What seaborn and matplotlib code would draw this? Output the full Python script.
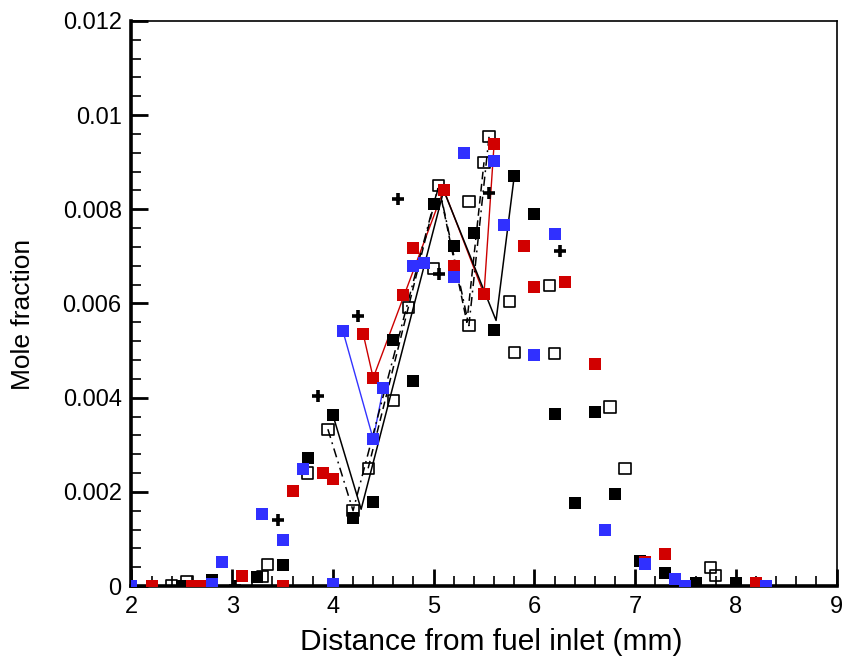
import matplotlib
matplotlib.use("Agg")
import matplotlib.pyplot as plt
from matplotlib.ticker import MultipleLocator, FormatStrFormatter
import seaborn as sns
import pandas as pd

# filled blue squares
blue_x = [2.0, 2.8, 2.9, 3.3, 3.5, 3.7, 4.0, 4.1, 4.4, 4.5, 4.8, 4.9, 5.2, 5.3, 5.6, 5.7, 6.0, 6.2, 6.7, 7.1, 7.4, 7.5, 8.3]
blue_y = [0.0, 0.00005, 0.00052, 0.00152, 0.00098, 0.00248, 0.00005, 0.00541, 0.00312, 0.0042, 0.00679, 0.00686,
          0.00656, 0.00919, 0.00903, 0.00766, 0.0049, 0.00747, 0.00118, 0.00047, 0.00015, 0.0, 0.0]

# filled red squares
red_x = [2.2, 2.6, 2.7, 3.1, 3.5, 3.6, 3.9, 4.0, 4.3, 4.4, 4.7, 4.8, 5.1, 5.2, 5.5, 5.6, 5.9, 6.0, 6.3, 6.6, 7.1, 7.3, 8.2]
red_y = [0.0, 0.0, 0.0, 0.00022, 0.0, 0.00202, 0.00239, 0.00227, 0.00536, 0.00442, 0.00617, 0.00718, 0.00842,
         0.0068, 0.0062, 0.00938, 0.00722, 0.00635, 0.00645, 0.00471, 0.00052, 0.00069, 0.00007]

# filled black squares
black_x = [2.5, 2.8, 3.25, 3.5, 3.75, 4.0, 4.2, 4.4, 4.6, 4.8, 5.0, 5.2, 5.4, 5.6, 5.8, 6.0, 6.2, 6.4, 6.6, 6.8,
           7.05, 7.3, 7.6, 8.0]
black_y = [0.0, 0.00013, 0.0002, 0.00045, 0.00272, 0.00363, 0.00144, 0.00179, 0.00522, 0.00435, 0.00811, 0.00722,
           0.00749, 0.00543, 0.0087, 0.0079, 0.00365, 0.00176, 0.00369, 0.00195, 0.00054, 0.00028, 0.00007, 0.00006]

# open squares
open_x = [2.4, 2.55, 3.3, 3.35, 3.75, 3.95, 4.2, 4.35, 4.6, 4.75, 5.0, 5.05, 5.35, 5.35, 5.5, 5.55, 5.75, 5.8,
          6.15, 6.2, 6.75, 6.9, 7.75, 7.8]
open_y = [0.0, 0.0001, 0.0002, 0.00046, 0.0024, 0.00333, 0.0016, 0.0025, 0.00394, 0.00591, 0.00674, 0.00851,
          0.00817, 0.00553, 0.00899, 0.00954, 0.00605, 0.00496, 0.00638, 0.00494, 0.0038, 0.0025, 0.0004, 0.00023]

# plus markers
plus_x = [3.03, 3.45, 3.85, 4.25, 4.65, 5.05, 5.55, 6.25]
plus_y = [0.0, 0.0014, 0.00403, 0.00573, 0.00822, 0.00662, 0.00835, 0.00711]

# connecting curves
blue_line_x = [4.1, 4.4, 4.5]
blue_line_y = [0.00541, 0.00312, 0.0042]
red_line_x = [4.3, 4.4, 5.1, 5.5, 5.6]
red_line_y = [0.00536, 0.00442, 0.00842, 0.0062, 0.00938]
solid_line_x = [4.0, 4.28, 5.1, 5.62, 5.8]
solid_line_y = [0.00363, 0.00163, 0.0084, 0.00564, 0.0087]
dashdot_line_x = [3.95, 4.2, 5.05, 5.35, 5.55]
dashdot_line_y = [0.00333, 0.0016, 0.00851, 0.00553, 0.00954]
dashed_line_x = [4.35, 5.05, 5.33, 5.5]
dashed_line_y = [0.0025, 0.0085, 0.0056, 0.009]

sns.set_style("white")
plt.rcParams["font.family"] = ["Liberation Sans", "DejaVu Sans"]
plt.rcParams["text.color"] = "black"
plt.rcParams["axes.labelcolor"] = "black"
plt.rcParams["xtick.color"] = "black"
plt.rcParams["ytick.color"] = "black"

fig = plt.figure(figsize=(8.46, 6.56), dpi=100)
ax = fig.add_axes([0.1554, 0.1067, 0.8334, 0.8613])


def draw_line(xs, ys, color, dashes, width):
    frame = pd.DataFrame({"x": xs, "y": ys})
    sns.lineplot(data=frame, x="x", y="y", sort=False, estimator=None, color=color,
                 linewidth=width, ax=ax, zorder=2)
    if dashes:
        ax.lines[-1].set_dashes(dashes)


draw_line(blue_line_x, blue_line_y, "#3333ff", None, 1.0)
draw_line(red_line_x, red_line_y, "#cc0000", None, 1.0)
draw_line(solid_line_x, solid_line_y, "black", None, 1.1)
draw_line(dashdot_line_x, dashdot_line_y, "black", [6, 3, 1.2, 3], 1.1)
draw_line(dashed_line_x, dashed_line_y, "black", [5, 3], 1.1)

sns.scatterplot(x=open_x, y=open_y, marker="s", s=66, facecolor="none", edgecolor="black",
                linewidth=1.2, ax=ax, zorder=3)
sns.scatterplot(x=black_x, y=black_y, marker="s", s=75, color="black", linewidth=0, ax=ax, zorder=4)
sns.scatterplot(x=red_x, y=red_y, marker="s", s=75, color="#d10000", linewidth=0, ax=ax, zorder=5)
sns.scatterplot(x=blue_x, y=blue_y, marker="s", s=75, color="#3030ff", linewidth=0, ax=ax, zorder=6)
sns.scatterplot(x=plus_x, y=plus_y, marker="+", s=64, color="black", linewidth=2.6, ax=ax, zorder=7)

ax.set_xlim(2, 9)
ax.set_ylim(0, 0.012)
ax.xaxis.set_major_locator(MultipleLocator(1))
ax.xaxis.set_minor_locator(MultipleLocator(0.2))
ax.yaxis.set_major_locator(MultipleLocator(0.002))
ax.yaxis.set_major_formatter(FormatStrFormatter("%g"))
ax.yaxis.set_minor_locator(MultipleLocator(0.0004))

ax.tick_params(which="major", direction="in", length=12, width=2, labelsize=17, pad=7,
               top=False, right=False, left=True, bottom=True, color="black", labelcolor="black")
ax.tick_params(which="minor", direction="in", length=7, width=1.2,
               top=False, right=False, left=True, bottom=True, color="black")

for side in ["left", "bottom"]:
    ax.spines[side].set_linewidth(2.6)
    ax.spines[side].set_color("black")
for side in ["top", "right"]:
    ax.spines[side].set_linewidth(1.2)
    ax.spines[side].set_color("black")

ax.set_xlabel("Distance from fuel inlet (mm)", fontsize=21.5, color="black")
ax.set_ylabel("Mole fraction", fontsize=19, color="black")
ax.xaxis.set_label_coords(0.51, -0.075)
ax.yaxis.set_label_coords(-0.137, 0.481)

fig.savefig("out.png", dpi=100)
